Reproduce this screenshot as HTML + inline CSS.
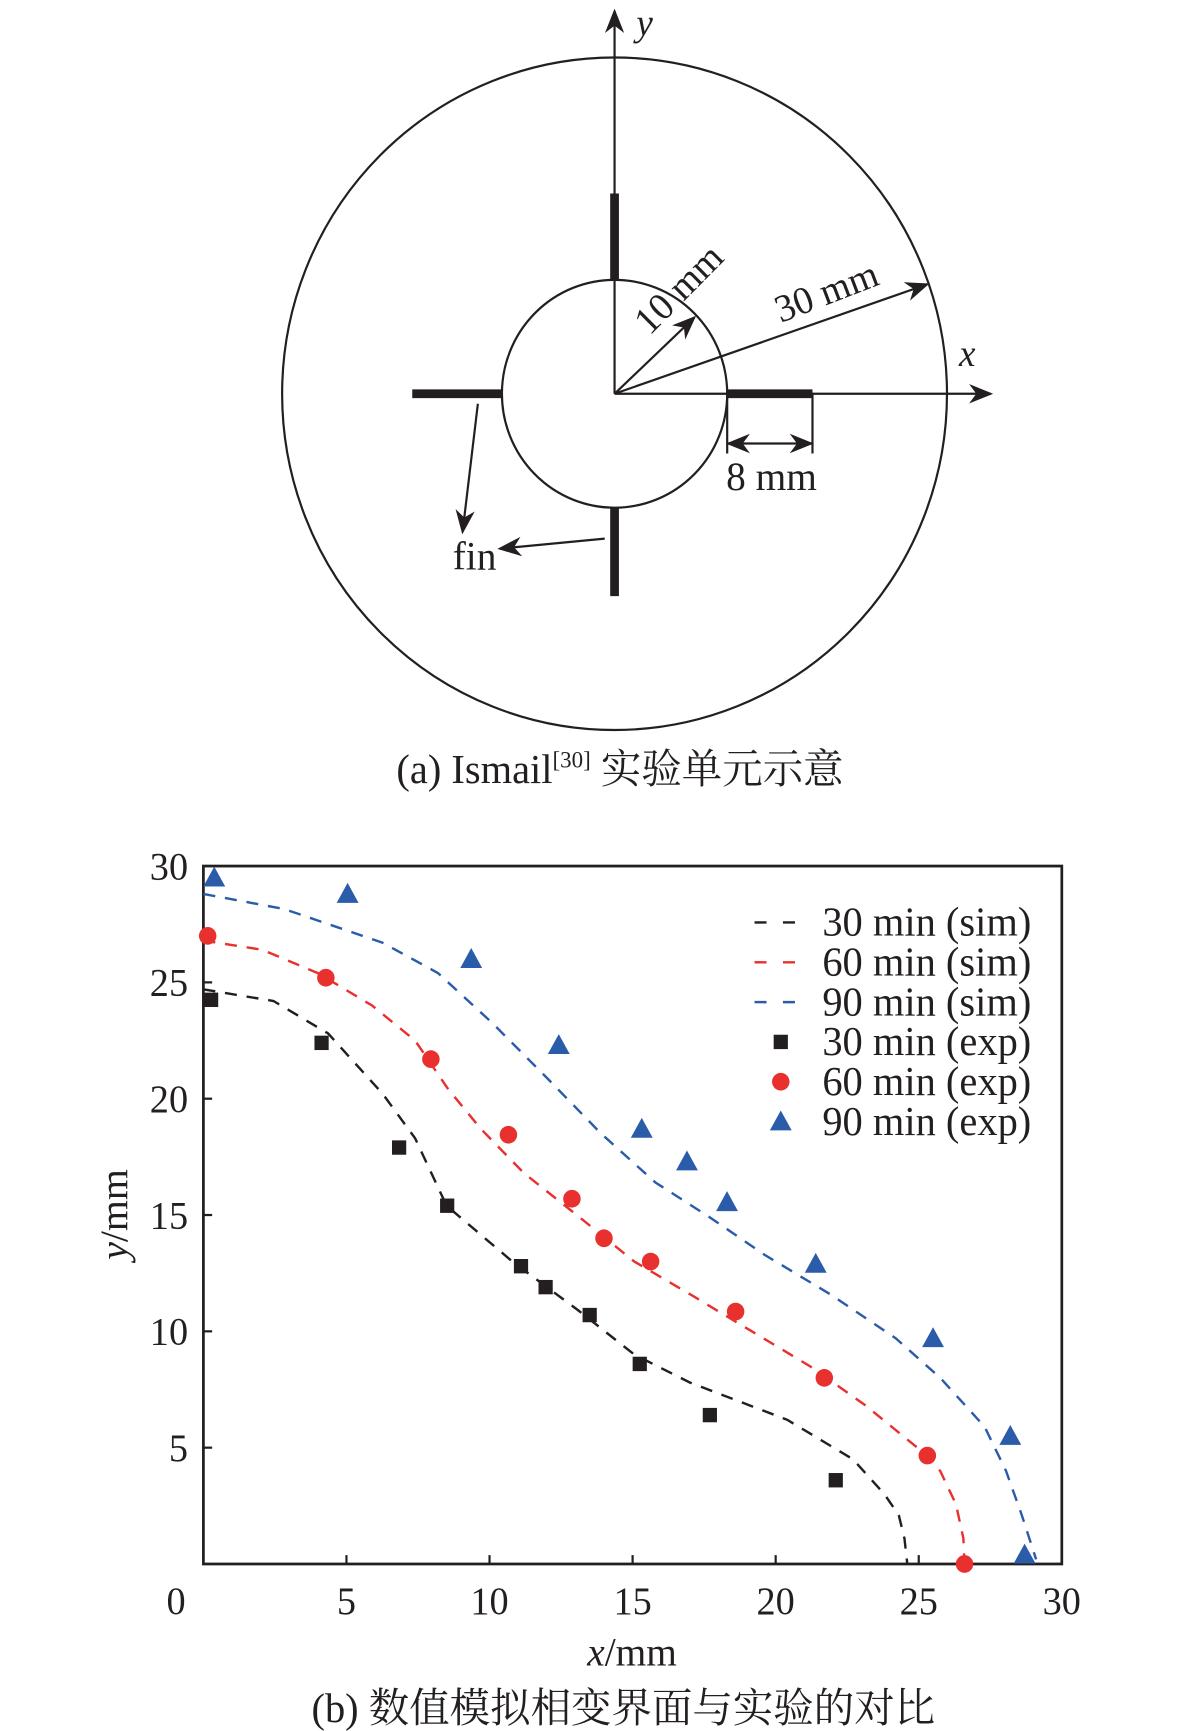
<!DOCTYPE html>
<html><head><meta charset="utf-8"><style>
html,body{margin:0;padding:0;background:#fff}
svg{display:block}
text{font-family:"Liberation Serif","Noto Serif CJK SC",serif;fill:#231f20}
</style></head><body>
<svg id="fig" width="1181" height="1731" viewBox="0 0 1080 1565" preserveAspectRatio="none" xmlns="http://www.w3.org/2000/svg">
<defs>
<marker id="ah2" viewBox="0 0 10 10" refX="9" refY="5" markerWidth="22" markerHeight="22" orient="auto-start-reverse" markerUnits="userSpaceOnUse"><path d="M0,1 L10,5 L0,9 L3,5 Z" fill="#231f20"/></marker>
</defs>
<g id="diagram" stroke="#231f20" fill="none">
<ellipse cx="562" cy="356" rx="304" ry="304" stroke-width="2"/>
<ellipse cx="562" cy="356" rx="103" ry="103" stroke-width="2"/>
<line x1="562" y1="356" x2="562" y2="10" stroke-width="2" marker-end="url(#ah2)"/>
<line x1="562" y1="356" x2="906" y2="356" stroke-width="2" marker-end="url(#ah2)"/>
<line x1="562" y1="175" x2="562" y2="253" stroke-width="8"/>
<line x1="562" y1="459" x2="562" y2="539" stroke-width="8"/>
<line x1="377" y1="356" x2="459" y2="356" stroke-width="8"/>
<line x1="665" y1="356" x2="743" y2="356" stroke-width="8"/>
<line x1="665" y1="356" x2="665" y2="410" stroke-width="2"/>
<line x1="743" y1="356" x2="743" y2="410" stroke-width="2"/>
<line x1="666" y1="401" x2="742" y2="401" stroke-width="2" marker-start="url(#ah2)" marker-end="url(#ah2)"/>
<line x1="562" y1="356" x2="635" y2="287" stroke-width="2" marker-end="url(#ah2)"/>
<line x1="562" y1="356" x2="848" y2="257" stroke-width="2" marker-end="url(#ah2)"/>
<line x1="437" y1="365" x2="423" y2="481" stroke-width="2" marker-end="url(#ah2)"/>
<line x1="553" y1="487" x2="457" y2="496" stroke-width="2" marker-end="url(#ah2)"/>
</g>
<text x="582" y="32" font-size="34" font-style="italic">y</text>
<text x="877" y="331" font-size="34" font-style="italic">x</text>
<text transform="translate(594,304) rotate(-45)" font-size="35">10 mm</text>
<text transform="translate(714,292) rotate(-21)" font-size="35">30 mm</text>
<text x="664" y="443" font-size="36">8 mm</text>
<text x="414" y="515" font-size="36">fin</text>
<text x="567" y="708" font-size="37" text-anchor="middle">(a) Ismail<tspan font-size="21" dy="-14">[30]</tspan><tspan dy="14"> 实验单元示意</tspan></text>

<g id="chart"></g>
<text x="578" y="1506" font-size="36" text-anchor="middle"><tspan font-style="italic">x</tspan>/mm</text>
<text transform="translate(116,1098) rotate(-90)" font-size="36" text-anchor="middle"><tspan font-style="italic">y</tspan>/mm</text>
<text x="570" y="1557" font-size="37" text-anchor="middle">(b) 数值模拟相变界面与实验的对比</text>
</svg>
<script>
const xTicks=[0,5,10,15,20,25,30];
const yTicks=[5,10,15,20,25,30];
const sim30X=[0,2.45,4.36,6.27,7.4,8.5,10.8,13.1,15.06,17.0,20.4,22.7,23.8,24.3,24.5,24.6];
const sim30Y=[24.7,24.2,22.8,20.2,18.3,15.4,13.0,10.9,9.0,7.8,6.2,4.5,3.0,2.1,1.1,0];
const sim60X=[0,2.06,4.0,5.9,7.4,8.56,9.7,11.2,13.15,15.06,17.0,18.9,21.2,23.1,25.0,25.75,26.3,26.56,26.6];
const sim60Y=[26.8,26.4,25.4,24.0,22.5,20.4,18.7,16.8,14.9,13.0,11.6,10.2,8.5,6.85,4.95,4.0,2.57,1.1,0];
const sim90X=[0,2.83,6.27,8.2,10.1,12.0,13.9,15.8,17.7,19.6,21.9,24.2,25.75,27.3,28.05,28.6,29.1];
const sim90Y=[28.8,28.15,26.7,25.4,23.25,20.9,18.5,16.4,14.9,13.3,11.6,9.7,8.0,5.9,4.0,2.1,0.2];
const exp30X=[0.27,4.13,6.84,8.52,11.1,11.96,13.5,15.25,17.7,22.1];
const exp30Y=[24.25,22.4,17.9,15.4,12.8,11.9,10.7,8.6,6.4,3.6];
const exp60X=[0.15,4.28,7.95,10.66,12.88,14.0,15.63,18.6,21.7,25.3,26.6];
const exp60Y=[27.0,25.2,21.7,18.45,15.7,14.0,13.0,10.85,8.0,4.66,0];
const exp90X=[0.38,5.04,9.36,12.42,15.32,16.9,18.3,21.4,25.5,28.2,28.7];
const exp90Y=[29.5,28.8,26.0,22.3,18.7,17.3,15.55,12.9,9.7,5.5,0.4];
const legendLabels=["30 min (sim)","60 min (sim)","90 min (sim)","30 min (exp)","60 min (exp)","90 min (exp)"];

const NS="http://www.w3.org/2000/svg";
const L=186,R=971,T=783,B=1414;
const sx=v=>L+(v/30)*(R-L);
const sy=v=>B-(v/30)*(B-T);
const g=document.getElementById('chart');
function mk(tag,at){const e=document.createElementNS(NS,tag);for(const k in at)e.setAttribute(k,at[k]);g.appendChild(e);return e;}
const BLK="#231f20",RED="#e8312f",BLU="#2a5caa";

let f=mk('rect',{x:L,y:T,width:R-L,height:B-T,fill:'none',stroke:BLK,'stroke-width':2.5});


xTicks.forEach((v,i)=>{
  if(i>0&&i<xTicks.length-1){let t=mk('line',{x1:sx(v),x2:sx(v),y1:B,y2:B-8,stroke:BLK,'stroke-width':2});
  
  }
  let tx=mk('text',{x:v===0?161:sx(v),y:1459,'font-size':35,'text-anchor':'middle'});
  tx.textContent=v;
  
  
});
yTicks.forEach((v,i)=>{
  if(v<30){let t=mk('line',{x1:L,x2:L+8,y1:sy(v),y2:sy(v),stroke:BLK,'stroke-width':2});
  
  }
  let tx=mk('text',{x:172,y:sy(v)+12,'font-size':35,'text-anchor':'end'});
  tx.textContent=v;
  
  
});
function curve(X,Y,c,name){
  let d=X.map((x,i)=>(i?'L':'M')+sx(x).toFixed(1)+','+sy(Y[i]).toFixed(1)).join(' ');
  let p=mk('path',{d:d,fill:'none',stroke:c,'stroke-width':2.2,'stroke-dasharray':'11,9'});
  
  
}
curve(sim30X,sim30Y,BLK,'sim-30-line');
curve(sim60X,sim60Y,RED,'sim-60-line');
curve(sim90X,sim90Y,BLU,'sim-90-line');
function square(x,y){return mk('rect',{x:x-6.5,y:y-6.5,width:13,height:13,fill:BLK});}
function dot(x,y){return mk('circle',{cx:x,cy:y,r:8,fill:RED});}
function tri(x,y){return mk('path',{d:`M${x},${y-10} L${x+10},${y+8} L${x-10},${y+8} Z`,fill:BLU});}
exp30X.forEach((x,i)=>{let m=square(sx(x),sy(exp30Y[i]));
  
  });
exp60X.forEach((x,i)=>{let m=dot(sx(x),sy(exp60Y[i]));
  
  });
exp90X.forEach((x,i)=>{let m=tri(sx(x),sy(exp90Y[i]));
  
  });
const cols=[BLK,RED,BLU,BLK,RED,BLU];
legendLabels.forEach((lab,i)=>{
  const y=834+i*36;
  let sym;
  if(i<3){sym=mk('line',{x1:690,x2:738,y1:y,y2:y,stroke:cols[i],'stroke-width':2.2,'stroke-dasharray':'11,15'});}
  else if(i===3){sym=square(714,y);}
  else if(i===4){sym=dot(714,y);}
  else{sym=tri(714,y);}
  
  
  let t=mk('text',{x:752,y:y+12,'font-size':37});
  t.textContent=lab;
  
  
});
</script>
</body></html>
